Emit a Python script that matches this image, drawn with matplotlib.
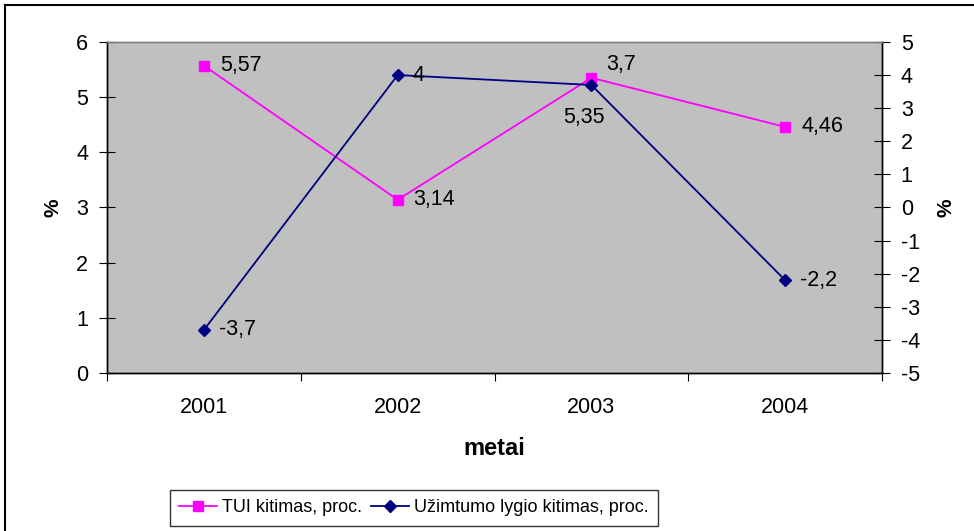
import matplotlib.pyplot as plt
from matplotlib.lines import Line2D

plt.rcParams['font.family'] = ['Liberation Sans', 'DejaVu Sans']
plt.rcParams['axes.unicode_minus'] = False

metai = ['2001', '2002', '2003', '2004']
tui = [5.57, 3.14, 5.35, 4.46]
uzimtumas = [-3.7, 4, 3.7, -2.2]
tui_labels = ['5,57', '3,14', '5,35', '4,46']
uzim_labels = ['-3,7', '4', '3,7', '-2,2']

pink = '#FF00FF'
navy = '#000080'
fs = 15.5

fig = plt.figure(figsize=(9.74, 5.31), dpi=100)
ax = fig.add_axes([0.1099, 0.2976, 0.7957, 0.6234])
ax.set_facecolor('#C0C0C0')

x = [1, 2, 3, 4]
ax.plot(x, tui, color=pink, lw=1.3, marker='s', markersize=7, zorder=3)
ax.set_xlim(0.5, 4.5)
ax.set_ylim(0, 6)
ax.set_yticks(range(0, 7))

ax2 = ax.twinx()
ax2.plot(x, uzimtumas, color=navy, lw=1.3, marker='D', markersize=6, zorder=3)
ax2.set_ylim(-5, 5)
ax2.set_yticks(range(-5, 6))

# teksto zymes prie tasku (kaip Excel'yje)
tui_off = [(16, 0), (16, 0), (-8, -40), (16, 0)]
uz_off = [(15, 0), (15, 0), (15, 20), (15, 0)]
for xi, v, lab, o in zip(x, tui, tui_labels, tui_off):
    ha = 'left' if o[0] > 0 else 'center'
    ax.annotate(lab, (xi, v), xytext=o, textcoords='offset pixels',
                ha=ha, va='center', fontsize=fs, zorder=5)
for xi, v, lab, o in zip(x, uzimtumas, uzim_labels, uz_off):
    ax2.annotate(lab, (xi, v), xytext=o, textcoords='offset pixels',
                 ha='left', va='center', fontsize=fs, zorder=5)

ax.set_xticks(x)
ax.set_xticklabels(metai, fontsize=fs)
ax.set_xticks([0.5, 1.5, 2.5, 3.5, 4.5], minor=True)
ax.tick_params(axis='x', which='major', length=0, pad=17)
ax.tick_params(axis='x', which='minor', length=6, direction='out', width=0.8)
ax.tick_params(axis='y', direction='inout', length=11, width=0.8, labelsize=fs, pad=8)
ax2.tick_params(axis='y', direction='inout', length=11, width=0.8, labelsize=fs, pad=8)

for a in (ax, ax2):
    a.spines['top'].set_color('#808080')
    a.spines['left'].set_color('black')
    a.spines['right'].set_color('black')
    a.spines['bottom'].set_color('black')
    for s in a.spines.values():
        s.set_linewidth(1)

ax.set_ylabel('%', fontsize=15, fontweight='bold', labelpad=10)
ax2.set_ylabel('%', fontsize=15, fontweight='bold', labelpad=12, rotation=90)
ax.set_xlabel('metai', fontsize=17, fontweight='bold', labelpad=14)

h1 = Line2D([], [], color=pink, lw=1.3, marker='s', markersize=7)
h2 = Line2D([], [], color=navy, lw=1.3, marker='D', markersize=6)
leg = fig.legend([h1, h2], ['TUI kitimas, proc.', 'Užimtumo lygio kitimas, proc.'],
                 loc='center', bbox_to_anchor=(414 / 974, 1 - 508 / 531), ncol=2,
                 fontsize=13, frameon=True, fancybox=False, handlelength=2.1,
                 handletextpad=0.28, columnspacing=0.5, borderpad=0.5,
                 borderaxespad=0)
leg.get_frame().set_edgecolor('black')
leg.get_frame().set_linewidth(1)

# remelis aplink visa diagrama
fig.add_artist(Line2D([5 / 974, 1], [1 - 5 / 531, 1 - 5 / 531], color='black', lw=1.5,
                      transform=fig.transFigure))
fig.add_artist(Line2D([5 / 974, 5 / 974], [0, 1 - 5 / 531], color='black', lw=1.5,
                      transform=fig.transFigure))

fig.savefig('out.png', dpi=100)
